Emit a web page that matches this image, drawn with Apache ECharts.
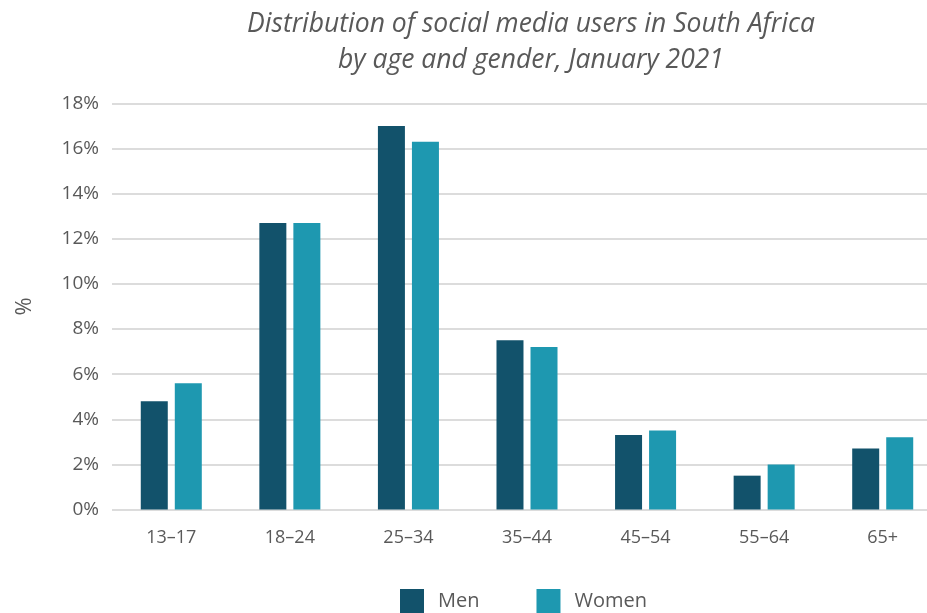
<!DOCTYPE html>
<html>
<head>
<meta charset="utf-8">
<script src="https://cdn.jsdelivr.net/npm/echarts@6/dist/echarts.min.js"></script>
<style>
  html, body { margin: 0; padding: 0; background: #ffffff; }
  #chart { width: 927px; height: 613px; }
</style>
</head>
<body>
<div id="chart"></div>
<script>
// Age groups and share of social media users (%) by gender
const ageGroups = ['13–17', '18–24', '25–34', '35–44', '45–54', '55–64', '65+'];
const menShare = [4.8, 12.7, 17.0, 7.5, 3.3, 1.5, 2.7];
const womenShare = [5.6, 12.7, 16.3, 7.2, 3.5, 2.0, 3.2];
const yTicks = [0, 2, 4, 6, 8, 10, 12, 14, 16, 18];

const textColor = '#595959';
const fontFamily = '"Open Sans", "Noto Sans", sans-serif';

const chart = echarts.init(document.getElementById('chart'), null, { renderer: 'canvas' });

chart.setOption({
  animation: false,
  backgroundColor: '#ffffff',
  title: {
    text: 'Distribution of social media users in South Africa\nby age and gender, January 2021',
    left: 531,
    top: 6,
    padding: 0,
    textAlign: 'center',
    textStyle: {
      color: textColor,
      fontFamily: fontFamily,
      fontStyle: 'italic',
      fontWeight: 'normal',
      fontSize: 26.5,
      lineHeight: 36
    }
  },
  legend: {
    left: 400,
    top: 589,
    padding: 0,
    itemWidth: 24,
    itemHeight: 24,
    itemGap: 57,
    icon: 'rect',
    textStyle: {
      color: textColor,
      fontFamily: fontFamily,
      fontSize: 20,
      padding: [0, 0, 0, 9]
    },
    data: ['Men', 'Women']
  },
  grid: {
    left: 112,
    width: 830,
    top: 103.5,
    bottom: 103.5,
    containLabel: false,
    outerBoundsMode: 'none'
  },
  xAxis: {
    type: 'category',
    data: ageGroups,
    axisLine: { show: false },
    axisTick: { show: false },
    axisLabel: {
      color: textColor,
      fontFamily: fontFamily,
      fontSize: 18,
      margin: 19
    }
  },
  yAxis: {
    type: 'value',
    min: yTicks[0],
    max: yTicks[yTicks.length - 1],
    interval: 2,
    name: '%',
    nameLocation: 'middle',
    nameGap: 76,
    nameRotate: 90,
    nameTextStyle: {
      color: textColor,
      fontFamily: fontFamily,
      fontSize: 22
    },
    axisLine: { show: false },
    axisTick: { show: false },
    axisLabel: {
      color: textColor,
      fontFamily: fontFamily,
      fontSize: 19,
      margin: 13,
      formatter: v => v + '%'
    },
    splitLine: {
      lineStyle: { color: '#dcdcdc', width: 2 }
    }
  },
  series: [
    {
      name: 'Men',
      type: 'bar',
      data: menShare,
      barWidth: 27,
      barGap: '26%',
      itemStyle: { color: '#12526b' }
    },
    {
      name: 'Women',
      type: 'bar',
      data: womenShare,
      barWidth: 27,
      itemStyle: { color: '#1e98b0' }
    }
  ]
});
</script>
</body>
</html>
